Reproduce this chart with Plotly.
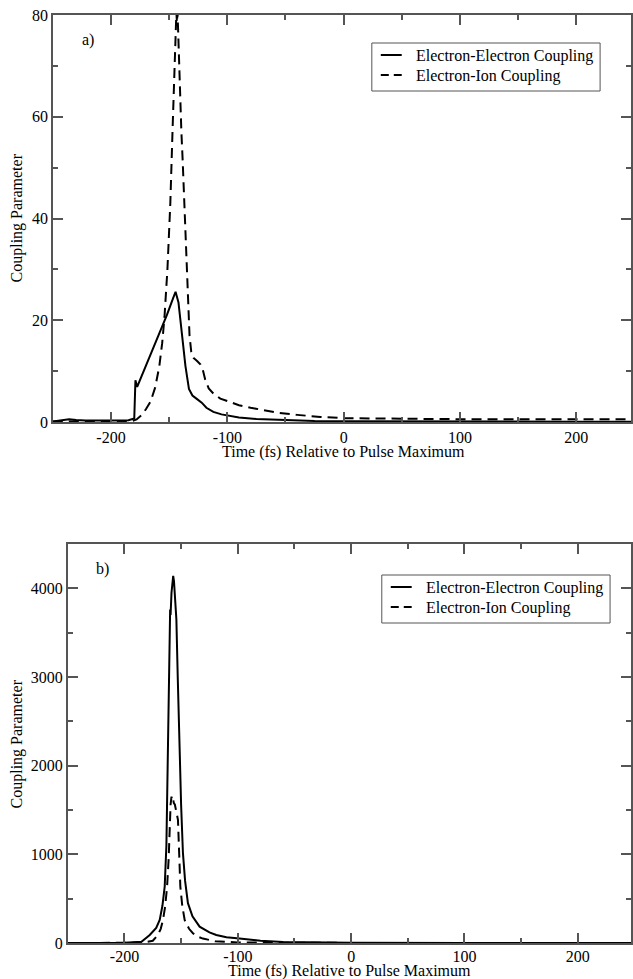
import plotly.graph_objects as go

# ---------------- data ----------------
# Panel a)
t_ee_a = [-250, -243, -236, -230, -222, -200, -185, -180, -179, -177.5, -170, -164, -158, -152,
          -146.5, -144.5, -142, -139, -136, -133, -130, -126, -122, -118, -112, -105, -100,
          -90, -75, -50, -25, 0, 50, 100, 150, 200, 250]
ee_a = [0.1, 0.3, 0.55, 0.4, 0.3, 0.3, 0.35, 0.7, 8.2, 6.9, 11.0, 14.3, 17.6, 21.0,
        24.4, 25.6, 23.5, 17.5, 11.0, 6.5, 5.2, 4.5, 3.8, 2.8, 2.0, 1.5, 1.3,
        0.9, 0.6, 0.35, 0.2, 0.15, 0.1, 0.08, 0.07, 0.06, 0.06]

t_ei_a = [-250, -200, -182, -178, -174, -170, -166, -162, -158.5, -156, -154, -151.5, -149,
          -147, -145.5, -144.5, -143.8, -143.3, -142.8, -142.3, -141.5, -140.5, -139.5, -138.5,
          -137, -135.5, -134, -132.5, -131, -129, -126, -123, -121, -119, -116, -112, -106,
          -98, -90, -80, -70, -56, -40, -20, 0, 50, 100, 150, 200, 250]
ei_a = [0.1, 0.15, 0.2, 0.5, 1.3, 2.5, 4.0, 6.8, 10.9, 15.5, 20.7, 30.0, 43.0,
        58.0, 70.0, 77.0, 80.5, 78.5, 80.5, 77.0, 70.0, 63.0, 57.0, 52.0,
        43.0, 33.0, 24.0, 17.0, 13.8, 12.6, 12.0, 11.3, 10.2, 8.3, 6.6, 5.6, 4.6,
        3.9, 3.3, 2.8, 2.4, 1.8, 1.4, 1.0, 0.75, 0.6, 0.55, 0.55, 0.55, 0.55]

# Panel b)
t_ee_b = [-250, -200, -185, -177.7, -172, -168.9, -166.5, -164.5, -163, -161.6, -160.6, -160.1,
          -159.7, -159.3, -158.5, -157.5, -157, -156.3, -155.3, -154.2, -153, -151.3, -150,
          -148.4, -146.5, -144, -140, -133.7, -125, -119, -110, -98.5, -80, -60, -30, 0, 100, 250]
ee_b = [0, 2, 15, 90, 170, 260, 420, 636, 1100, 2143, 3100, 3537,
        3760, 3700, 3950, 4120, 4140, 4080, 3850, 3650, 3000, 2143, 1550,
        1013, 700, 449, 300, 184, 120, 90, 65, 50, 25, 12, 5, 3, 1, 0.5]

t_ei_b = [-250, -185, -175, -170.4, -168, -166, -164, -162.4, -161, -160.1, -159.3, -158.5,
          -158, -157.2, -156.5, -155.5, -154.2, -152.8, -151.7, -150.7, -149, -146.9, -143,
          -139.6, -135, -130.8, -120, -100, 0, 250]
ei_b = [0, 3, 25, 90, 160, 260, 420, 636, 950, 1390, 1560, 1650,
        1620, 1640, 1580, 1560, 1480, 1390, 1000, 636, 420, 260, 160,
        110, 70, 50, 20, 6, 1, 0.5]

series_names = ["Electron-Electron Coupling", "Electron-Ion Coupling"]
x_tickvals = [-200, -100, 0, 100, 200]
x_ticktext = ["-200", "-100", "0", "100", "200"]
x_title = "Time (fs) Relative to Pulse Maximum"
y_title = "Coupling Parameter"
panel_labels = ["a)", "b)"]

# ---------------- figure ----------------
W, H = 633, 979
ML, MR, MT, MB = 0, 0, 15, 36
PH = H - MT - MB


def px_x(px):
    return px / W


def px_y(py):
    return (H - MB - py) / PH


FONT = "Liberation Serif, Times New Roman, serif"
AX = "#555"
LINE = dict(color="black", width=2)
DASH = dict(color="black", width=2, dash="10px,6px")

fig = go.Figure()
fig.add_trace(go.Scatter(x=t_ee_a, y=ee_a, mode="lines", line=LINE, name=series_names[0],
                         xaxis="x", yaxis="y"))
fig.add_trace(go.Scatter(x=t_ei_a, y=ei_a, mode="lines", line=DASH, name=series_names[1],
                         xaxis="x", yaxis="y"))
fig.add_trace(go.Scatter(x=t_ee_b, y=ee_b, mode="lines", line=LINE, name=series_names[0],
                         xaxis="x2", yaxis="y2"))
fig.add_trace(go.Scatter(x=t_ei_b, y=ei_b, mode="lines", line=DASH, name=series_names[1],
                         xaxis="x2", yaxis="y2"))

axis_common = dict(
    showgrid=False, zeroline=False, showline=True, linecolor=AX, linewidth=1.5,
    mirror="allticks", ticks="inside", ticklen=10, tickwidth=1.5, tickcolor=AX,
    tickfont=dict(family=FONT, size=16, color="black"),
)


def minor(d):
    return dict(ticks="inside", ticklen=5, dtick=d, tick0=0, tickcolor=AX, tickwidth=1.5)


fig.update_layout(
    width=W, height=H,
    margin=dict(l=ML, r=MR, t=MT, b=MB),
    paper_bgcolor="white", plot_bgcolor="white",
    font=dict(family=FONT, size=16, color="black"),
    showlegend=False,
    xaxis=dict(domain=[px_x(53), 1], range=[-250, 247.0], anchor="y",
               tickvals=x_tickvals, ticktext=x_ticktext, minor=minor(50), **axis_common),
    yaxis=dict(domain=[px_y(422), px_y(15)], range=[0, 80], anchor="x",
               dtick=20, minor=minor(10), **axis_common),
    xaxis2=dict(domain=[px_x(68), 1], range=[-250, 246.9], anchor="y2",
                tickvals=x_tickvals, ticktext=x_ticktext, minor=minor(50),
                ticklabelstandoff=-2, **axis_common),
    yaxis2=dict(domain=[px_y(943), px_y(544)], range=[0, 4500], anchor="x2",
                dtick=1000, minor=minor(500), **axis_common),
)

ann = [
    dict(text=x_title, x=px_x(345), y=px_y(452)),
    dict(text=x_title, x=px_x(351), y=px_y(970.5)),
    dict(text=y_title, x=px_x(17.5), y=px_y(218), textangle=-90),
    dict(text=y_title, x=px_x(17.5), y=px_y(744), textangle=-90),
    dict(text=panel_labels[0], x=px_x(88), y=px_y(40)),
    dict(text=panel_labels[1], x=px_x(103), y=px_y(569)),
]
for a in ann:
    fig.add_annotation(xref="paper", yref="paper", showarrow=False,
                       xanchor="center", yanchor="middle",
                       font=dict(family=FONT, size=16, color="black"), **a)

# legend boxes (drawn in paper space)
for (lx, ly) in [(373, 43), (383, 575)]:
    fig.add_shape(type="rect", xref="paper", yref="paper",
                  x0=px_x(lx), x1=px_x(lx + 229), y0=px_y(ly), y1=px_y(ly + 48),
                  line=dict(color=AX, width=1), fillcolor="white", layer="above")
    for i, (nm, st) in enumerate(zip(series_names, [LINE, DASH])):
        yy = ly + 12 + 20 * i
        ldash = "solid" if i == 0 else "8px,5px"
        fig.add_shape(type="line", xref="paper", yref="paper",
                      x0=px_x(lx + 9), x1=px_x(lx + 30), y0=px_y(yy), y1=px_y(yy),
                      line=dict(color="black", width=2, dash=ldash), layer="above")
        fig.add_annotation(xref="paper", yref="paper", showarrow=False,
                           x=px_x(lx + 42), y=px_y(yy + 1), xanchor="left", yanchor="middle",
                           text=nm, font=dict(family=FONT, size=16, color="black"))

fig.write_html("out.html")
